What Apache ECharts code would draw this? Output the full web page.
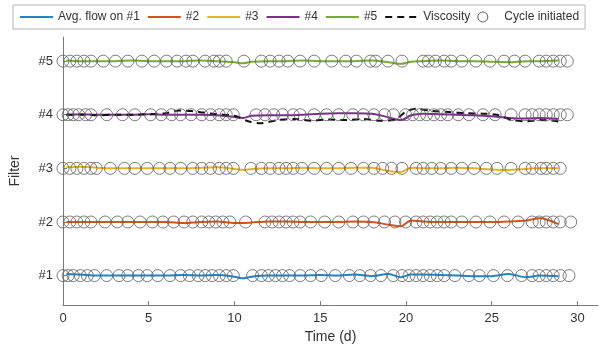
<!DOCTYPE html>
<html>
<head>
<meta charset="utf-8">
<script src="https://cdn.jsdelivr.net/npm/echarts@6.0.0/dist/echarts.min.js"></script>
<style>
  html, body { margin: 0; padding: 0; background: #fff; }
  #chart { width: 609px; height: 349px; }
</style>
</head>
<body>
<div id="chart"></div>
<script>
// filter rows (y value of each filter) and their labels
const filterLevels = [1, 2, 3, 4, 5];
const filterLabels = ['#1', '#2', '#3', '#4', '#5'];
const xTicks = [0, 5, 10, 15, 20, 25, 30];

// sample times for the avg. flow lines (days)
const flowDays = [0.2, 1, 2, 3, 4, 5, 6, 7, 8, 9, 10, 10.5, 11, 12, 13, 14, 15, 16, 17, 18, 19, 19.7, 20.3, 21, 22, 23, 24, 25, 26, 27, 27.8, 28.9];

// avg. flow on each filter, drawn around its row level
const flow1 = [1.03, 1.02, 1.00, 1.00, 1.00, 1.00, 1.00, 1.01, 1.00, 1.01, 0.98, 0.95, 0.98, 1.00, 1.00, 1.00, 1.01, 1.00, 1.02, 0.99, 1.03, 0.97, 1.02, 1.02, 1.01, 1.00, 0.99, 0.99, 1.03, 0.97, 1.00, 0.99];
const flow2 = [2.00, 2.00, 2.00, 2.00, 2.00, 2.00, 2.00, 1.98, 2.00, 2.01, 1.98, 1.98, 1.99, 2.01, 2.01, 2.00, 2.00, 2.00, 2.01, 2.00, 1.95, 1.92, 2.03, 2.01, 2.00, 2.00, 2.00, 2.00, 2.01, 2.03, 2.07, 1.96];
const flow3 = [3.02, 3.03, 3.01, 3.00, 3.00, 3.00, 3.00, 3.00, 3.01, 3.02, 2.99, 2.97, 2.99, 3.00, 3.00, 3.01, 3.00, 3.00, 3.01, 3.01, 2.95, 2.93, 3.01, 3.00, 3.00, 3.01, 3.00, 2.98, 2.97, 2.99, 3.00, 3.00];
const flow4 = [4.00, 4.01, 4.00, 4.00, 4.00, 4.01, 4.00, 4.00, 4.00, 3.99, 3.96, 3.94, 3.98, 3.99, 3.99, 4.00, 4.02, 4.03, 4.03, 4.02, 3.95, 3.90, 3.99, 4.02, 4.01, 4.00, 3.99, 3.97, 3.94, 3.93, 3.94, 3.92];
const flow5 = [5.01, 5.00, 5.00, 5.00, 5.01, 5.00, 5.00, 5.00, 5.01, 5.00, 4.98, 4.96, 4.99, 5.00, 5.00, 5.01, 5.00, 5.00, 5.00, 5.01, 4.98, 4.95, 4.99, 5.00, 5.01, 5.00, 5.00, 4.99, 4.98, 5.00, 5.00, 5.01];

// viscosity, drawn on the #4 row
const viscDays = [0.2, 1, 2, 3, 4, 5, 6, 6.8, 7.5, 8.2, 9, 10, 10.8, 11.5, 12.5, 13.5, 14.5, 15.5, 16.5, 17.5, 18.5, 19.3, 20, 20.6, 21.5, 22.5, 23.5, 24.5, 25.3, 26.2, 27, 27.8, 28.6, 29.1];
const viscosity = [4.00, 4.00, 3.99, 4.00, 4.00, 4.01, 4.03, 4.08, 4.07, 4.04, 4.01, 3.98, 3.88, 3.84, 3.90, 3.92, 3.89, 3.91, 3.90, 3.92, 3.89, 3.90, 4.06, 4.11, 4.07, 4.05, 4.03, 4.02, 4.00, 3.90, 3.88, 3.90, 3.89, 3.86];

// cycle initiation times per filter (days)
const cycle1 = [0, 0.30, 0.60, 1.01, 1.42, 1.83, 2.55, 3.27, 3.78, 4.40, 4.91, 5.52, 6.24, 6.86, 7.37, 7.88, 8.29, 8.70, 9.11, 9.52, 9.93, 11.06, 11.57, 11.98, 12.39, 12.80, 13.21, 13.83, 14.44, 15.06, 15.88, 16.70, 17.31, 17.93, 18.54, 19.26, 19.77, 20.18, 20.59, 21.00, 21.41, 21.82, 22.23, 22.85, 23.67, 24.28, 25.10, 25.92, 26.74, 27.36, 27.77, 28.18, 28.59, 29.00, 29.51];
const cycle2 = [0, 0.40, 0.81, 1.22, 1.63, 2.45, 3.17, 3.78, 4.50, 5.22, 5.83, 6.45, 7.06, 7.57, 8.09, 8.50, 8.91, 9.32, 9.73, 10.65, 11.78, 12.19, 12.60, 13.01, 13.42, 13.83, 14.44, 15.26, 16.08, 16.90, 17.52, 18.13, 18.75, 19.36, 19.98, 20.59, 21.00, 21.41, 21.82, 22.23, 22.64, 23.26, 24.08, 24.90, 25.72, 26.54, 27.36, 27.77, 28.18, 28.59, 29.00, 29.61];
const cycle3 = [0, 0.40, 0.81, 1.22, 1.63, 1.94, 2.76, 3.58, 4.19, 4.91, 5.63, 6.24, 6.86, 7.57, 8.09, 8.60, 9.11, 9.52, 9.93, 10.96, 11.57, 12.08, 12.60, 13.01, 13.42, 13.93, 14.65, 15.37, 16.08, 16.80, 17.52, 18.13, 18.64, 19.16, 19.77, 20.59, 21.00, 21.51, 22.03, 22.64, 23.26, 23.97, 24.69, 25.31, 26.13, 26.95, 27.36, 27.87, 28.18, 28.59, 29.00];
const cycle4 = [0, 0.30, 0.60, 0.91, 1.32, 1.63, 2.55, 3.47, 4.19, 5.11, 5.73, 6.34, 6.86, 7.47, 8.09, 8.60, 9.11, 9.52, 9.93, 11.26, 11.78, 12.29, 12.80, 13.42, 13.83, 14.65, 15.37, 16.08, 16.90, 17.52, 18.13, 18.75, 19.26, 19.98, 20.39, 20.80, 21.20, 21.62, 22.03, 22.44, 23.05, 23.67, 24.49, 25.20, 26.13, 26.95, 27.36, 27.77, 28.18, 28.59, 29.00, 29.41];
const cycle5 = [0, 0.40, 0.81, 1.22, 1.63, 2.35, 3.06, 3.78, 4.60, 5.32, 6.04, 6.65, 7.17, 7.57, 8.29, 8.80, 9.11, 9.52, 10.55, 11.57, 12.08, 12.60, 13.11, 13.83, 14.65, 15.67, 16.49, 17.11, 17.93, 18.23, 18.95, 19.77, 21.00, 21.31, 21.72, 22.23, 22.64, 23.26, 24.08, 24.90, 25.72, 26.33, 26.95, 27.77, 28.18, 28.59, 29.00, 29.41];

const flowNames = ['Avg. flow on #1', '#2', '#3', '#4', '#5'];
const flowColors = ['#1f86c9', '#d95319', '#edb120', '#7e2f8e', '#77ac30'];
const flows = [flow1, flow2, flow3, flow4, flow5];
const cycles = [cycle1, cycle2, cycle3, cycle4, cycle5];

const chart = echarts.init(document.getElementById('chart'));

const circleData = [];
cycles.forEach((days, i) => {
    days.forEach(d => circleData.push([d, filterLevels[i]]));
});

const series = flows.map((vals, i) => ({
    name: flowNames[i],
    type: 'line',
    data: flowDays.map((d, j) => [d, vals[j]]),
    symbol: 'none',
    smooth: 0.3,
    lineStyle: { color: flowColors[i], width: 2 },
    itemStyle: { color: flowColors[i] },
    z: 2
}));

series.push({
    name: 'Viscosity',
    type: 'line',
    data: viscDays.map((d, j) => [d, viscosity[j]]),
    symbol: 'none',
    smooth: 0.3,
    lineStyle: { color: '#111', width: 2, type: [7, 5] },
    itemStyle: { color: '#111' },
    z: 3
});

const circleStyle = { color: 'rgba(0,0,0,0)', borderColor: '#5e5e5e', borderWidth: 1 };

series.push({
    name: 'Cycle initiated',
    type: 'scatter',
    data: circleData,
    symbol: 'circle',
    symbolSize: 12,
    itemStyle: circleStyle,
    z: 4
});

const font = 'Liberation Sans, Arial, sans-serif';

const option = {
    animation: false,
    backgroundColor: '#fff',
    textStyle: { fontFamily: font },
    legend: {
        left: 13,
        top: 5,
        padding: [6, 6, 6, 6],
        borderColor: '#b5b5b5',
        borderWidth: 1,
        itemWidth: 33,
        itemHeight: 10,
        itemGap: 7,
        // hide the marker drawn in the middle of the line icons
        itemStyle: { opacity: 0 },
        textStyle: { fontSize: 12, color: '#333', fontFamily: font },
        data: [
            'Avg. flow on #1', '#2', '#3', '#4', '#5', 'Viscosity',
            { name: 'Cycle initiated', icon: 'circle', itemStyle: Object.assign({ opacity: 1 }, circleStyle) }
        ]
    },
    grid: { left: 61, right: 11, top: 37, bottom: 41, containLabel: false },
    xAxis: {
        type: 'value',
        min: 0,
        max: 31.2,
        interval: 5,
        name: 'Time (d)',
        nameLocation: 'middle',
        nameGap: 22,
        nameTextStyle: { fontSize: 14, color: '#333', fontFamily: font },
        axisLine: { lineStyle: { color: '#7a7a7a', width: 1 } },
        axisTick: { inside: true, length: 4, lineStyle: { color: '#7a7a7a' }, customValues: xTicks },
        axisLabel: { fontSize: 13, color: '#333', margin: 7, customValues: xTicks },
        splitLine: { show: false }
    },
    yAxis: {
        type: 'value',
        min: 0.45,
        max: 5.45,
        name: 'Filter',
        nameLocation: 'middle',
        nameGap: 41,
        nameRotate: 90,
        nameTextStyle: { fontSize: 14, color: '#333', fontFamily: font },
        axisLine: { show: true, lineStyle: { color: '#7a7a7a', width: 1 } },
        axisTick: { show: true, inside: true, length: 4, lineStyle: { color: '#7a7a7a' }, customValues: filterLevels },
        axisLabel: {
            fontSize: 13,
            color: '#333',
            margin: 10,
            customValues: filterLevels,
            formatter: v => filterLabels[filterLevels.indexOf(Math.round(v))] || ''
        },
        splitLine: { show: false }
    },
    series: series
};

chart.setOption(option);
</script>
</body>
</html>
